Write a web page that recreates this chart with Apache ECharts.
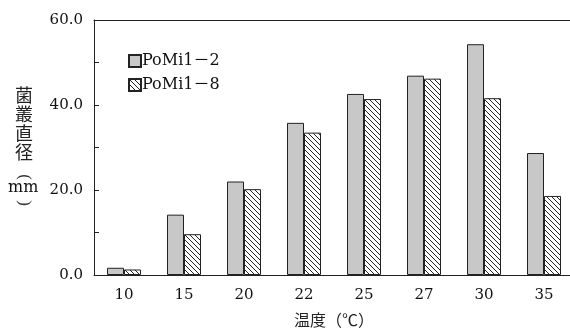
<!DOCTYPE html>
<html><head><meta charset="utf-8">
<script src="https://cdn.jsdelivr.net/npm/echarts@6/dist/echarts.min.js"></script>
<style>html,body{margin:0;padding:0;background:#fff}#c{width:570px;height:330px}</style>
</head><body><div id="c"></div>
<script>
const categories = ['10','15','20','22','25','27','30','35'];
const seriesNames = ['PoMi1－2','PoMi1－8'];
const values2 = [1.7, 14.2, 22.0, 35.8, 42.6, 46.9, 54.3, 28.7];
const values8 = [1.3, 9.6, 20.2, 33.5, 41.4, 46.2, 41.6, 18.6];
const yTicks = [0, 20, 40, 60];

const serif = '"DejaVu Serif","Liberation Serif","Noto Sans CJK JP",serif';
const cjk = '"Noto Sans CJK JP","Noto Sans CJK SC",sans-serif';

function hatch() {
  const s = 5;
  const c = document.createElement('canvas');
  c.width = s; c.height = s;
  const g = c.getContext('2d');
  g.fillStyle = '#fff'; g.fillRect(0,0,s,s);
  g.strokeStyle = '#222'; g.lineWidth = 1;
  g.beginPath();
  g.moveTo(-1,-1); g.lineTo(s+1,s+1);
  g.moveTo(-1,s-1); g.lineTo(1,s+1);
  g.moveTo(s-1,-1); g.lineTo(s+1,1);
  g.stroke();
  return c;
}

const chart = echarts.init(document.getElementById('c'));
chart.setOption({
  animation: false,
  backgroundColor: '#fff',
  grid: {left: 94, right: -4, top: 20, bottom: 55, containLabel: false, outerBoundsMode: 'none'},
  legend: {
    orient: 'vertical', left: 123, top: 48, itemWidth: 12, itemHeight: 12, itemGap: 8,
    icon: 'rect',
    textStyle: {fontFamily: serif, fontSize: 16, color: '#111', padding: [0,0,0,-4]},
    data: seriesNames
  },
  xAxis: [{
    type: 'category', data: categories,
    axisLine: {lineStyle: {color: '#222', width: 1}},
    axisTick: {show: false},
    axisLabel: {fontFamily: serif, fontSize: 15, color: '#111', margin: 13},
    name: '温度（℃）', nameLocation: 'middle', nameGap: 37,
    nameTextStyle: {fontFamily: cjk, fontSize: 16, color: '#222'}
  }, {
    type: 'category', data: categories, position: 'top',
    axisLine: {lineStyle: {color: '#222', width: 1}},
    axisTick: {show: false}, axisLabel: {show: false}
  }],
  yAxis: {
    type: 'value', min: 0, max: 60, interval: 10,
    axisLine: {show: true, lineStyle: {color: '#222', width: 1}},
    axisTick: {show: true, inside: true, length: 5, lineStyle: {color: '#222'}},
    splitLine: {show: false},
    axisLabel: {
      fontFamily: serif, fontSize: 15, color: '#111', margin: 11,
      formatter: v => yTicks.includes(v) ? v.toFixed(1) : ''
    }
  },
  graphic: [
    {type: 'text', left: 15, top: 86, style: {text: '菌\n叢\n直\n径', font: '18px ' + cjk, fill: '#222', lineHeight: 19}},
    {type: 'text', left: 8, top: 180, style: {text: 'mm', font: '16px ' + serif, fill: '#111'}}
  ],
  series: [{
    name: seriesNames[0], type: 'bar', data: values2, barWidth: 17, barGap: '0%',
    itemStyle: {color: '#c8c8c8', borderColor: '#222', borderWidth: 1}
  }, {
    name: seriesNames[1], type: 'bar', data: values8, barWidth: 17, barGap: '0%',
    itemStyle: {color: {image: hatch(), repeat: 'repeat'}, borderColor: '#222', borderWidth: 1}
  }]
});

// Vertical-form parentheses of the y-axis name, drawn as rotated text
const zr = chart.getZr();
[['(', 177], [')', 203]].forEach(([ch, y]) => {
  zr.add(new echarts.graphic.Text({
    x: 24, y: y, rotation: -Math.PI / 2, z: 10,
    style: {text: ch, font: '17px "Liberation Serif",serif', fill: '#333', align: 'center', verticalAlign: 'middle'}
  }));
});
</script></body></html>
